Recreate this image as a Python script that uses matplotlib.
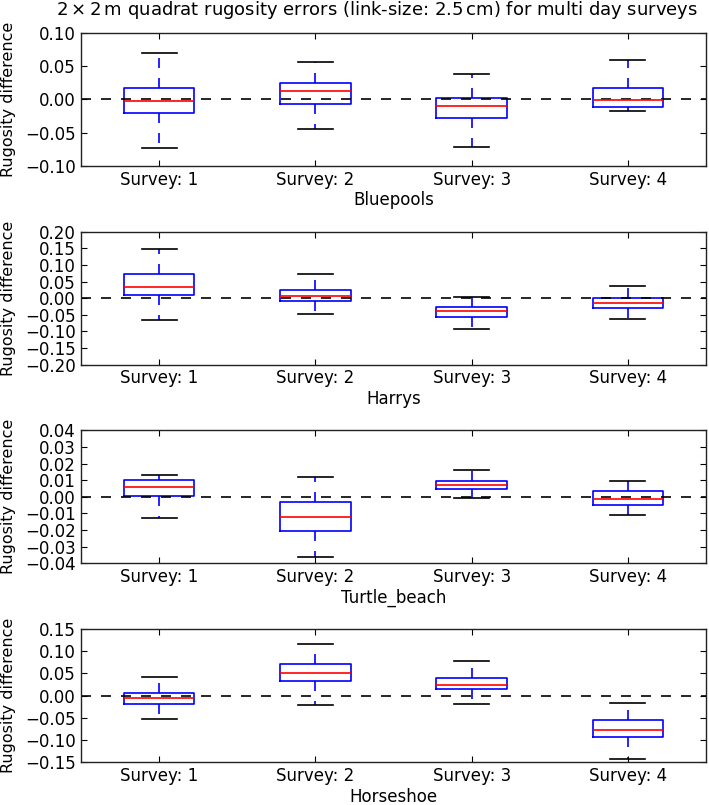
# multi day survey rugosity errors, boxplots per site

import numpy as np
from matplotlib import pyplot as plt
from matplotlib.ticker import MultipleLocator

sites = ['Bluepools', 'Harrys', 'Turtle_beach', 'Horseshoe']
surveys = ['Survey: 1', 'Survey: 2', 'Survey: 3', 'Survey: 4']

# box statistics per site, one value per survey
bluepools_lo = [-0.073, -0.044, -0.071, -0.018]
bluepools_q1 = [-0.021, -0.007, -0.028, -0.012]
bluepools_med = [-0.002, 0.012, -0.010, -0.001]
bluepools_q3 = [0.017, 0.025, 0.002, 0.017]
bluepools_hi = [0.070, 0.057, 0.039, 0.059]

harrys_lo = [-0.067, -0.047, -0.094, -0.063]
harrys_q1 = [0.008, -0.008, -0.057, -0.029]
harrys_med = [0.035, 0.007, -0.038, -0.014]
harrys_q3 = [0.073, 0.025, -0.028, 0.000]
harrys_hi = [0.147, 0.072, 0.003, 0.036]

turtle_lo = [-0.0126, -0.0365, -0.0008, -0.0107]
turtle_q1 = [0.0004, -0.0203, 0.0049, -0.0050]
turtle_med = [0.0057, -0.0124, 0.0073, -0.0012]
turtle_q3 = [0.0101, -0.0030, 0.0095, 0.0038]
turtle_hi = [0.0132, 0.0120, 0.0162, 0.0095]

horseshoe_lo = [-0.053, -0.021, -0.019, -0.144]
horseshoe_q1 = [-0.020, 0.034, 0.014, -0.094]
horseshoe_med = [-0.005, 0.051, 0.025, -0.078]
horseshoe_q3 = [0.005, 0.071, 0.040, -0.055]
horseshoe_hi = [0.043, 0.117, 0.077, -0.016]

stats = [
    (bluepools_lo, bluepools_q1, bluepools_med, bluepools_q3, bluepools_hi),
    (harrys_lo, harrys_q1, harrys_med, harrys_q3, harrys_hi),
    (turtle_lo, turtle_q1, turtle_med, turtle_q3, turtle_hi),
    (horseshoe_lo, horseshoe_q1, horseshoe_med, horseshoe_q3, horseshoe_hi),
]
ylims = [0.10, 0.20, 0.04, 0.15]
ysteps = [0.05, 0.05, 0.01, 0.05]

plt.rcParams['font.size'] = 12
plt.rcParams['lines.dashed_pattern'] = [6, 6]

fig, axes = plt.subplots(4, 1, figsize=(7.09, 8.05), dpi=100)
fig.subplots_adjust(left=0.1142, right=0.9958, top=0.959, bottom=0.0534, hspace=0.496)

for ax, site, st, lim, step in zip(axes, sites, stats, ylims, ysteps):
    lo, q1, med, q3, hi = st
    bstats = []
    for i in range(len(surveys)):
        bstats.append(dict(whislo=lo[i], q1=q1[i], med=med[i], q3=q3[i],
                           whishi=hi[i], fliers=[], label=surveys[i]))
    ax.bxp(bstats, positions=[1, 2, 3, 4], widths=0.45, showfliers=False,
           boxprops=dict(color='b', linewidth=1.2),
           medianprops=dict(color='r', linewidth=1.2),
           whiskerprops=dict(color='b', linestyle='--', linewidth=1.2),
           capprops=dict(color='k', linewidth=1.2))
    ax.axhline(0, color='k', linestyle='--', linewidth=1.2)

    ax.set_xlim(0.5, 4.5)
    ax.set_ylim(-lim, lim)
    ax.yaxis.set_major_locator(MultipleLocator(step))
    ax.set_ylabel('Rugosity difference', fontsize=11.5)
    ax.yaxis.set_label_coords(-0.104, 0.5)
    ax.set_xlabel(site, labelpad=2)
    ax.tick_params(axis='both', which='major', direction='in', top=True, right=True, length=4)
    for sp in ax.spines.values():
        sp.set_linewidth(1)
        sp.set_color('#222222')

fig.text(377/709, 1 - 15/805,
         r'$2\times2\,$m quadrat rugosity errors (link-size: $2.5\,$cm) for multi day surveys',
         ha='center', va='baseline', fontsize=13)

plt.savefig('out.png')
